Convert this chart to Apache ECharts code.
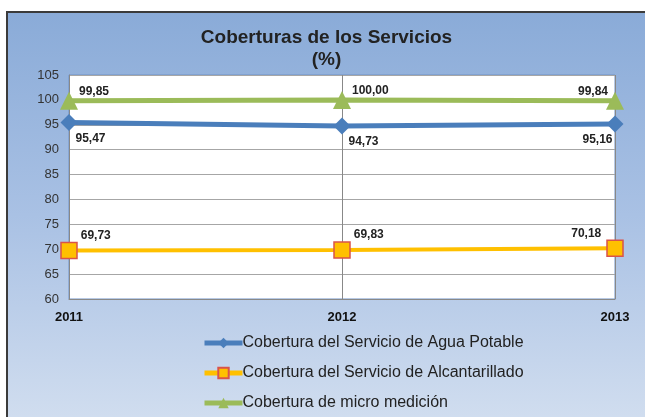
<!DOCTYPE html>
<html>
<head>
<meta charset="utf-8">
<script src="https://cdn.jsdelivr.net/npm/echarts@6/dist/echarts.min.js"></script>
<style>
  html, body { margin: 0; padding: 0; background: #fff; }
  #frame {
    position: absolute; left: 6px; top: 11px; width: 639px; height: 406px;
    border-left: 2px solid #3b3b3b; border-top: 2px solid #3b3b3b;
    box-sizing: border-box;
    background: linear-gradient(to bottom, #8aabd8 0%, #a9c1e4 50%, #d0ddef 100%);
  }
  #chart { width: 100%; height: 100%; }
</style>
</head>
<body>
<div id="frame"><div id="chart"></div></div>
<script>
var years = ['2011', '2012', '2013']
var aguaPotable = [95.47, 94.73, 95.16]
var alcantarillado = [69.73, 69.83, 70.18]
var microMedicion = [99.85, 100.00, 99.84]

var seriesNames = [
  'Cobertura del Servicio de Agua Potable',
  'Cobertura del Servicio de Alcantarillado',
  'Cobertura de micro medición'
]

function fmt(v) {
  return v.toFixed(2).replace('.', ',')
}

// labels: first two points to the right, last one to the left
function withLabels(values, dy, dxRight, dxLeft) {
  return values.map(function(v, i) {
    var last = i === values.length - 1
    return {
      value: v,
      label: {
        position: last ? 'left' : 'right',
        distance: 0,
        offset: [last ? -dxLeft : dxRight, dy]
      }
    }
  })
}

var chart = echarts.init(document.getElementById('chart'))

var labelStyle = {
  show: true,
  color: '#222',
  fontWeight: 'bold',
  fontSize: 12,
  fontFamily: 'Liberation Sans, Arial, sans-serif',
  formatter: function(p) { return fmt(p.value) }
}

chart.setOption({
  animation: false,
  textStyle: { fontFamily: 'Liberation Sans, Arial, sans-serif' },
  title: {
    text: 'Coberturas de los Servicios\n(%)',
    left: 'center',
    top: 9,
    textStyle: { fontSize: 19, fontWeight: 'bold', color: '#222', lineHeight: 22 }
  },
  grid: {
    left: 61,
    right: 30,
    top: 62,
    height: 224,
    show: true,
    backgroundColor: '#fff',
    borderColor: '#6f93c8',
    borderWidth: 1
  },
  legend: {
    orient: 'vertical',
    left: 189,
    top: 317,
    itemGap: 14,
    itemWidth: 38,
    itemHeight: 13,
    lineStyle: { width: 5 },
    textStyle: { fontSize: 16, color: '#222', padding: [0, 0, 0, -5] },
    data: seriesNames
  },
  xAxis: {
    type: 'category',
    data: years,
    boundaryGap: false,
    axisLine: { lineStyle: { color: '#888', width: 1 } },
    axisTick: { show: false },
    axisLabel: { color: '#111', fontWeight: 'bold', fontSize: 13, margin: 12 },
    splitLine: { show: true, lineStyle: { color: '#888' } }
  },
  yAxis: {
    type: 'value',
    min: 60,
    max: 105,
    interval: 5,
    axisLine: { show: true, lineStyle: { color: '#888', width: 1 } },
    axisTick: { show: false },
    axisLabel: { color: '#333', fontSize: 13, margin: 10 },
    splitLine: { lineStyle: { color: '#a6a6a6' } }
  },
  series: [
    {
      name: seriesNames[0],
      type: 'line',
      z: 3,
      symbol: 'diamond',
      symbolSize: 17,
      lineStyle: { color: '#4a7ebb', width: 5 },
      itemStyle: { color: '#4a7ebb' },
      label: labelStyle,
      data: withLabels(aguaPotable, 16, -2, -6)
    },
    {
      name: seriesNames[1],
      type: 'line',
      z: 3,
      symbol: 'rect',
      symbolSize: 16,
      lineStyle: { color: '#ffc000', width: 4 },
      itemStyle: { color: '#ffc000', borderColor: '#d9534a', borderWidth: 1.5 },
      label: labelStyle,
      data: withLabels(alcantarillado, -15, 3, 5)
    },
    {
      name: seriesNames[2],
      type: 'line',
      z: 4,
      symbol: 'triangle',
      symbolSize: 18,
      lineStyle: { color: '#9bbb59', width: 5 },
      itemStyle: { color: '#9bbb59' },
      label: labelStyle,
      data: withLabels(microMedicion, -9, 1, -2)
    }
  ]
})
</script>
</body>
</html>
